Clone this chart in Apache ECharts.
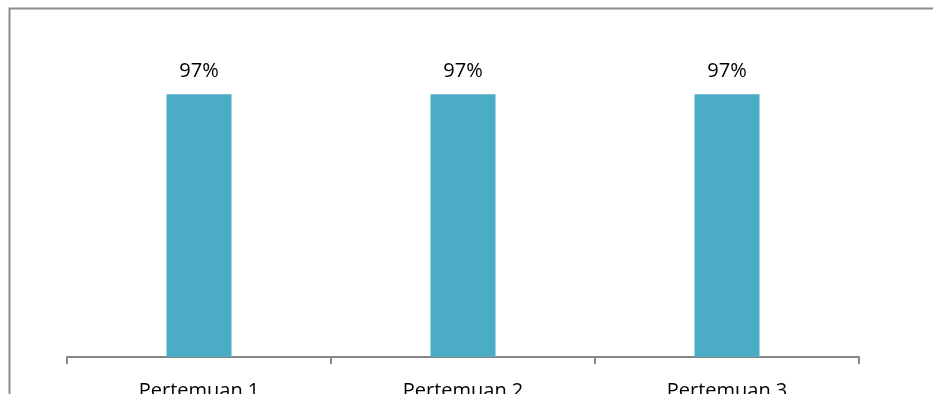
<!DOCTYPE html>
<html>
<head>
<meta charset="utf-8">
<script src="https://cdn.jsdelivr.net/npm/echarts@6/dist/echarts.min.js"></script>
<style>
  html, body { margin: 0; padding: 0; background: #fff; }
  #chart { width: 933px; height: 394px; }
</style>
</head>
<body>
<div id="chart"></div>
<script>
// Attendance percentage per meeting
const categories = ['Pertemuan 1', 'Pertemuan 2', 'Pertemuan 3'];
const attendance = [97, 97, 97];

const chart = echarts.init(document.getElementById('chart'));
chart.setOption({
  animation: false,
  textStyle: { fontFamily: 'Open Sans, Liberation Sans, sans-serif' },
  graphic: [{
    type: 'rect',
    shape: { x: 9.5, y: 8.5, width: 960, height: 420 },
    style: { fill: 'none', stroke: '#8c8c8c', lineWidth: 2 },
    silent: true
  }],
  grid: { left: 67, right: 74, top: 86, bottom: 37, containLabel: false, outerBoundsMode: 'none' },
  xAxis: {
    type: 'category',
    data: categories,
    axisLine: { lineStyle: { color: '#868686', width: 2 } },
    axisTick: { show: true, length: 7, lineStyle: { color: '#868686', width: 2 } },
    axisLabel: { color: '#000', fontSize: 20, margin: 24 }
  },
  yAxis: {
    type: 'value',
    min: 0,
    max: 100,
    show: false,
    splitLine: { show: false }
  },
  series: [{
    type: 'bar',
    data: attendance,
    barWidth: 65,
    itemStyle: { color: '#4BACC6' },
    label: {
      show: true,
      position: 'top',
      distance: 13,
      color: '#000',
      fontSize: 20,
      formatter: p => p.value + '%'
    }
  }]
});
</script>
</body>
</html>
